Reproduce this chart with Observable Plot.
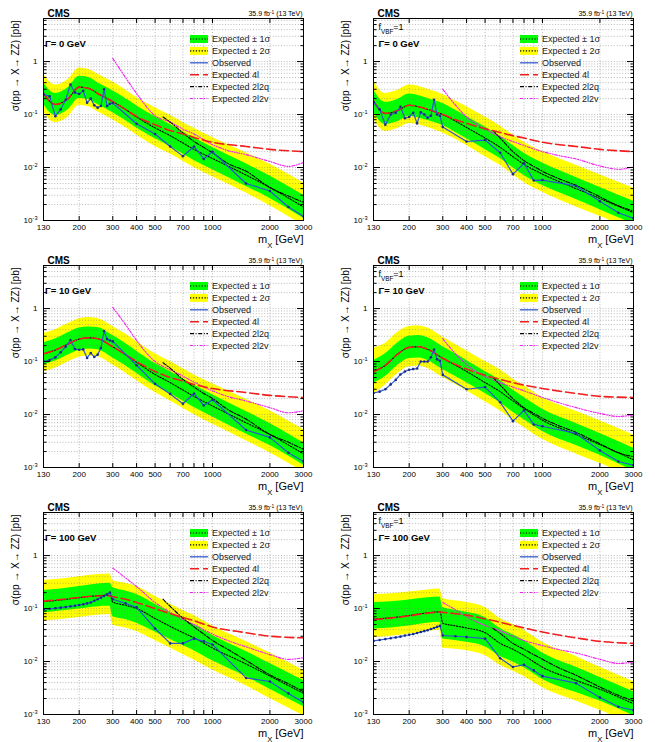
<!DOCTYPE html>
<html><head><meta charset="utf-8">
<script src="https://cdn.jsdelivr.net/npm/d3@7"></script>
<script src="https://cdn.jsdelivr.net/npm/@observablehq/plot@0.6"></script>
<style>
body{margin:0;background:#fff;}
#root{position:relative;width:655px;height:742px;background:#fff;}
#root svg{position:absolute;}
</style></head><body><div id="root"></div>
<script>
const FONT = "'Liberation Sans', Arial, Helvetica, sans-serif";

// ---- mass grids (GeV) ----
const mObs   = [130,140,150,160,170,180,190,200,210,220,230,240,250,260,270,280,290,300,400,500,600,700,800,900,1000,1500,2000,2500,3000];
const mObsW  = [130,140,150,160,170,180,190,200,210,220,230,240,250,260,270,280,290,300,350,400,500,600,700,800,900,1000,1500,2000,2500,3000];
const mBand  = [130,150,175,200,225,250,300,350,400,500,600,700,800,1000,1500,2000,3000];
const mBandW = [130,160,200,250,290,300,350,400,500,600,700,800,1000,1500,2000,3000];
const m2l2q  = [550,600,700,800,900,1000,1200,1500,2000,2500,3000];
const m2l2v  = [300,350,400,500,600,700,800,1000,1200,1500,2000,2500,3000];

// ---- tick labels ----
const xLabelTicks = [130,200,300,400,500,700,1000,2000,3000];
const xMinorTicks = [200,300,400,500,600,700,800,900,1000,2000];
const yLabelTicks = [0.001,0.01,0.1,1];
const yLabelText  = ["10^-3","10^-2","10^-1","1"];

// ---- legend ----
const legendLabels = ["Expected \u00b1 1\u03c3","Expected \u00b1 2\u03c3","Observed","Expected 4l","Expected 2l2q","Expected 2l2v"];

// ---- Panel A: ggF, Gamma = 0 GeV ----
const obsA  = [0.24,0.22,0.093,0.125,0.19,0.37,0.26,0.245,0.28,0.167,0.2,0.15,0.135,0.145,0.30,0.145,0.16,0.165,0.067,0.043,0.025,0.0164,0.025,0.0145,0.0198,0.005,0.0036,0.0018,0.0012];
const expA  = [0.25,0.155,0.2,0.33,0.31,0.25,0.175,0.125,0.09,0.056,0.04,0.029,0.022,0.0148,0.0072,0.0042,0.0018];
const s1hiA = [0.40,0.25,0.32,0.53,0.50,0.40,0.28,0.20,0.146,0.091,0.065,0.047,0.036,0.024,0.0118,0.0069,0.003];
const s1loA = [0.155,0.096,0.123,0.2,0.19,0.155,0.108,0.077,0.056,0.035,0.025,0.018,0.0136,0.0091,0.0044,0.0026,0.0011];
const s2hiA = [0.58,0.36,0.46,0.76,0.71,0.58,0.41,0.29,0.21,0.135,0.097,0.071,0.055,0.037,0.019,0.0115,0.0051];
const s2loA = [0.113,0.07,0.09,0.15,0.14,0.113,0.08,0.057,0.041,0.025,0.018,0.0132,0.01,0.0067,0.0033,0.0019,0.0008];
const l4A   = [0.25,0.155,0.2,0.33,0.31,0.25,0.175,0.125,0.092,0.064,0.05,0.043,0.037,0.03,0.025,0.022,0.02];
const qA    = [0.09,0.072,0.045,0.031,0.024,0.019,0.012,0.0085,0.0042,0.0029,0.0022];
const vA    = [1.15,0.5,0.25,0.095,0.072,0.053,0.043,0.027,0.021,0.0175,0.013,0.0105,0.0125];

// ---- Panel B: VBF, Gamma = 0 GeV ----
const obsB  = [0.17,0.125,0.064,0.1,0.108,0.14,0.085,0.09,0.108,0.068,0.11,0.1,0.087,0.095,0.19,0.1,0.095,0.058,0.031,0.033,0.019,0.0075,0.012,0.0057,0.0058,0.0045,0.0023,0.0014,0.0011];
const expB  = [0.18,0.105,0.12,0.15,0.14,0.125,0.1,0.075,0.057,0.036,0.024,0.016,0.0115,0.0075,0.004,0.0026,0.0014];
const s1hiB = [0.29,0.17,0.195,0.243,0.227,0.2,0.162,0.12,0.092,0.058,0.039,0.026,0.0186,0.0122,0.0065,0.0042,0.0023];
const s1loB = [0.111,0.065,0.074,0.093,0.086,0.077,0.062,0.046,0.035,0.022,0.0148,0.0099,0.0071,0.0046,0.0025,0.0016,0.00086];
const s2hiB = [0.43,0.25,0.29,0.36,0.34,0.3,0.24,0.18,0.14,0.09,0.061,0.041,0.03,0.02,0.011,0.0073,0.0041];
const s2loB = [0.082,0.048,0.055,0.068,0.064,0.057,0.045,0.034,0.026,0.016,0.011,0.0073,0.0052,0.0034,0.0018,0.0012,0.00064];
const l4B   = [0.18,0.105,0.12,0.15,0.14,0.125,0.1,0.08,0.068,0.054,0.046,0.04,0.036,0.03,0.025,0.022,0.02];
const qB    = [0.05,0.036,0.02,0.0135,0.0105,0.0085,0.0063,0.0046,0.0028,0.0019,0.0015];
const vB    = [0.3,0.15,0.09,0.053,0.038,0.031,0.026,0.02,0.017,0.0145,0.0107,0.0093,0.0103];

// ---- Panel C: ggF, Gamma = 10 GeV ----
const obsC  = [0.1,0.107,0.12,0.15,0.19,0.255,0.172,0.167,0.17,0.117,0.145,0.122,0.135,0.18,0.375,0.265,0.25,0.24,0.085,0.038,0.0245,0.016,0.025,0.0148,0.019,0.0051,0.0037,0.0019,0.0013];
const expC  = [0.14,0.165,0.215,0.265,0.28,0.27,0.19,0.135,0.097,0.057,0.04,0.029,0.022,0.0145,0.007,0.0042,0.0018];
const s1hiC = [0.227,0.267,0.35,0.43,0.45,0.44,0.31,0.22,0.157,0.092,0.065,0.047,0.036,0.0235,0.0114,0.0068,0.0029];
const s1loC = [0.086,0.102,0.133,0.164,0.173,0.167,0.117,0.083,0.06,0.035,0.025,0.018,0.0136,0.009,0.0043,0.0026,0.0011];
const s2hiC = [0.34,0.4,0.52,0.64,0.68,0.65,0.46,0.33,0.24,0.14,0.1,0.073,0.056,0.038,0.0195,0.0118,0.0052];
const s2loC = [0.064,0.075,0.098,0.12,0.127,0.123,0.086,0.061,0.044,0.026,0.018,0.0132,0.01,0.0066,0.0032,0.0019,0.00082];
const l4C   = [0.14,0.165,0.215,0.265,0.28,0.27,0.19,0.135,0.1,0.065,0.05,0.043,0.037,0.031,0.026,0.023,0.021];
const qC    = [0.095,0.075,0.046,0.033,0.025,0.02,0.0125,0.0082,0.0042,0.003,0.0022];
const vC    = [1.05,0.5,0.25,0.1,0.07,0.053,0.041,0.028,0.022,0.018,0.0135,0.0108,0.0118];

// ---- Panel D: VBF, Gamma = 10 GeV ----
const obsD  = [0.0255,0.027,0.03,0.037,0.045,0.057,0.065,0.07,0.072,0.074,0.1,0.1,0.1,0.12,0.168,0.11,0.103,0.056,0.03,0.033,0.017,0.0075,0.012,0.0065,0.006,0.0044,0.0021,0.0013,0.0011];
const expD  = [0.064,0.085,0.14,0.185,0.19,0.17,0.115,0.085,0.065,0.04,0.027,0.018,0.013,0.0078,0.0042,0.0027,0.0014];
const s1hiD = [0.105,0.14,0.23,0.3,0.31,0.28,0.19,0.14,0.105,0.065,0.044,0.029,0.021,0.0126,0.0068,0.0044,0.0023];
const s1loD = [0.039,0.052,0.086,0.114,0.117,0.105,0.071,0.052,0.04,0.025,0.0167,0.011,0.008,0.0048,0.0026,0.0017,0.00086];
const s2hiD = [0.18,0.22,0.36,0.46,0.47,0.43,0.29,0.21,0.16,0.1,0.07,0.047,0.035,0.021,0.0115,0.0076,0.0041];
const s2loD = [0.024,0.036,0.06,0.08,0.082,0.074,0.05,0.037,0.028,0.0175,0.0118,0.0079,0.0057,0.0034,0.0018,0.0012,0.00064];
const l4D   = [0.064,0.085,0.14,0.185,0.19,0.17,0.115,0.088,0.072,0.055,0.046,0.04,0.036,0.031,0.025,0.022,0.021];
const qD    = [0.05,0.036,0.02,0.0135,0.0105,0.0085,0.0063,0.0046,0.0028,0.0019,0.0016];
const vD    = [0.27,0.14,0.088,0.052,0.04,0.033,0.028,0.021,0.017,0.0135,0.0105,0.0092,0.0098];

// ---- Panel E: ggF, Gamma = 100 GeV ----
const obsE  = [0.097,0.099,0.101,0.104,0.107,0.11,0.113,0.117,0.12,0.125,0.13,0.14,0.15,0.16,0.172,0.185,0.2,0.15,0.125,0.105,0.042,0.022,0.022,0.027,0.024,0.021,0.0049,0.0042,0.0025,0.0017];
const expE  = [0.135,0.145,0.16,0.175,0.178,0.133,0.115,0.1,0.065,0.046,0.035,0.028,0.018,0.009,0.0053,0.0025];
const s1hiE = [0.22,0.235,0.26,0.29,0.3,0.25,0.215,0.185,0.12,0.083,0.063,0.05,0.031,0.0155,0.0092,0.0044];
const s1loE = [0.083,0.09,0.098,0.108,0.11,0.071,0.062,0.053,0.036,0.026,0.02,0.016,0.0103,0.0052,0.003,0.0014];
const s2hiE = [0.34,0.36,0.4,0.44,0.45,0.34,0.3,0.26,0.17,0.12,0.092,0.074,0.047,0.024,0.0145,0.0068];
const s2loE = [0.058,0.062,0.068,0.075,0.077,0.049,0.043,0.037,0.025,0.018,0.0135,0.0107,0.0069,0.0035,0.002,0.00095];
const l4E   = [0.138,0.148,0.162,0.172,0.172,0.168,0.15,0.13,0.1,0.08,0.068,0.059,0.045,0.035,0.03,0.028];
const qE    = [0.15,0.11,0.066,0.045,0.033,0.025,0.017,0.0105,0.0056,0.0038,0.0027];
const vE    = [0.58,0.38,0.26,0.13,0.085,0.062,0.05,0.033,0.025,0.019,0.0135,0.011,0.0118];

// ---- Panel F: VBF, Gamma = 100 GeV ----
const obsF  = [0.0245,0.0255,0.0265,0.0275,0.0285,0.0295,0.031,0.032,0.033,0.0345,0.036,0.0375,0.039,0.041,0.043,0.045,0.047,0.031,0.03,0.029,0.027,0.0115,0.0079,0.0087,0.0068,0.0053,0.0039,0.0021,0.0014,0.0012];
const expF  = [0.063,0.067,0.074,0.083,0.087,0.053,0.047,0.043,0.035,0.022,0.017,0.013,0.0078,0.0044,0.003,0.0016];
const s1hiF = [0.13,0.135,0.145,0.16,0.165,0.105,0.093,0.085,0.068,0.042,0.032,0.025,0.0145,0.0078,0.005,0.0027];
const s1loF = [0.041,0.043,0.047,0.053,0.055,0.027,0.025,0.023,0.019,0.0125,0.0098,0.0076,0.0046,0.0026,0.0018,0.00095];
const s2hiF = [0.185,0.19,0.205,0.225,0.235,0.155,0.14,0.13,0.105,0.065,0.05,0.039,0.023,0.0125,0.0078,0.0042];
const s2loF = [0.028,0.03,0.033,0.037,0.039,0.018,0.017,0.016,0.013,0.0085,0.0066,0.0052,0.0032,0.0018,0.0012,0.00065];
const l4F   = [0.062,0.066,0.073,0.082,0.086,0.085,0.08,0.075,0.064,0.055,0.048,0.043,0.036,0.028,0.024,0.022];
const qF    = [0.042,0.034,0.022,0.017,0.0135,0.011,0.0078,0.0055,0.0033,0.0023,0.0018];
const vF    = [0.13,0.095,0.07,0.048,0.038,0.03,0.025,0.02,0.017,0.0145,0.011,0.0092,0.0098];

const panels = [
  {col:0,row:0,vbf:false,gamma:"\u0393= 0 GeV",  mo:mObs, obs:obsA, mb:mBand, exp:expA, s1hi:s1hiA, s1lo:s1loA, s2hi:s2hiA, s2lo:s2loA, l4:l4A, q:qA, v:vA},
  {col:1,row:0,vbf:true, gamma:"\u0393= 0 GeV",  mo:mObs, obs:obsB, mb:mBand, exp:expB, s1hi:s1hiB, s1lo:s1loB, s2hi:s2hiB, s2lo:s2loB, l4:l4B, q:qB, v:vB},
  {col:0,row:1,vbf:false,gamma:"\u0393= 10 GeV", mo:mObs, obs:obsC, mb:mBand, exp:expC, s1hi:s1hiC, s1lo:s1loC, s2hi:s2hiC, s2lo:s2loC, l4:l4C, q:qC, v:vC},
  {col:1,row:1,vbf:true, gamma:"\u0393= 10 GeV", mo:mObs, obs:obsD, mb:mBand, exp:expD, s1hi:s1hiD, s1lo:s1loD, s2hi:s2hiD, s2lo:s2loD, l4:l4D, q:qD, v:vD},
  {col:0,row:2,vbf:false,gamma:"\u0393= 100 GeV",mo:mObsW,obs:obsE, mb:mBandW,exp:expE, s1hi:s1hiE, s1lo:s1loE, s2hi:s2hiE, s2lo:s2loE, l4:l4E, q:qE, v:vE},
  {col:1,row:2,vbf:true, gamma:"\u0393= 100 GeV",mo:mObsW,obs:obsF, mb:mBandW,exp:expF, s1hi:s1hiF, s1lo:s1loF, s2hi:s2hiF, s2lo:s2loF, l4:l4F, q:qF, v:vF}
];

// grid / minor ticks from the log scale's decades
const yMinor = [];
for (const e of [-3,-2,-1,0]) for (let k = 2; k <= 9; k++) { const val = +(k * Math.pow(10, e)).toPrecision(3); if (val < 6.5) yMinor.push(val); }
const yMajor = [0.01, 0.1, 1];
const yGrid = yMinor.concat(yMajor);

const ML = 43, MR = 27, MT = 18, MB = 27, W = 330, H = 247;
const RED = "#f01e1e", MAG = "#f020f0", BLUE = "#2a56d0", NAVY = "#1a2c88";
const DASH_MED = "1.3,1.6", DASH_4L = "9,4", DASH_2Q = "4,1.6,1,1.6", DASH_2V = "3,1.5,1,1.5,1,1.5";

function richText(svg) {
  d3.select(svg).selectAll("text").each(function() {
    const t = this.textContent;
    if (!/[\^_]/.test(t)) return;
    const sel = d3.select(this); sel.text(null);
    const re = /([\^_])([^\s=]+)/g; let last = 0, mm;
    while ((mm = re.exec(t))) {
      if (mm.index > last) sel.append("tspan").text(t.slice(last, mm.index));
      sel.append("tspan").attr("baseline-shift", mm[1] === "^" ? "super" : "sub").attr("font-size", "70%").text(mm[2]);
      last = re.lastIndex;
    }
    if (last < t.length) sel.append("tspan").text(t.slice(last));
  });
}

const root = document.getElementById("root");
for (const p of panels) {
  const band = p.mb.map((m, i) => ({m, exp: p.exp[i], s1lo: p.s1lo[i], s1hi: p.s1hi[i], s2lo: p.s2lo[i], s2hi: p.s2hi[i], l4: p.l4[i]}));
  const obs = p.mo.map((m, i) => ({m, v: p.obs[i]}));
  const q = m2l2q.map((m, i) => ({m, v: p.q[i]}));
  const v = m2l2v.map((m, i) => ({m, v: p.v[i]}));
  const texts = [
    Plot.text(["CMS"], {frameAnchor: "top-left", dx: 4, dy: -1.5, lineAnchor: "bottom", textAnchor: "start", fontWeight: "bold", fontSize: 10}),
    Plot.text(["35.9 fb^-1 (13 TeV)"], {frameAnchor: "top-right", dx: -1, dy: -2.5, lineAnchor: "bottom", textAnchor: "end", fontSize: 7}),
    Plot.text([p.gamma], {frameAnchor: "top-left", dx: p.vbf ? 5 : 1.5, dy: 28, lineAnchor: "bottom", textAnchor: "start", fontWeight: "bold", fontSize: 9.5}),
    Plot.text(["\u03c3(pp \u2192 X\u2192 ZZ) [pb]"], {frameAnchor: "top-left", dx: -28, dy: 2, rotate: -90, textAnchor: "end", lineAnchor: "middle", fontSize: 10}),
    Plot.text(["m_X [GeV]"], {frameAnchor: "bottom-right", dy: 22, lineAnchor: "bottom", textAnchor: "end", fontSize: 11}),
    Plot.text(xLabelTicks, {x: d => d, text: d => String(d), frameAnchor: "bottom", dy: 4, lineAnchor: "top", fontSize: 8}),
    Plot.text(yLabelTicks, {y: d => d, text: (d, i) => yLabelText[i], frameAnchor: "left", dx: -6, textAnchor: "end", lineAnchor: "middle", fontSize: 8})
  ];
  if (p.vbf) texts.push(Plot.text(["f_VBF=1"], {frameAnchor: "top-left", dx: 5, dy: 11.5, lineAnchor: "bottom", textAnchor: "start", fontSize: 9}));

  const svg = Plot.plot({
    width: W, height: H, marginLeft: ML, marginRight: MR, marginTop: MT, marginBottom: MB,
    style: {fontFamily: FONT, fontSize: "8px", color: "#000", background: "transparent", overflow: "visible"},
    x: {type: "log", domain: [130, 3000], label: null},
    y: {type: "log", domain: [1e-3, 6.5], label: null},
    marks: [
      Plot.areaY(band, {x: "m", y1: "s2lo", y2: "s2hi", fill: "#ffff00", curve: "monotone-x", clip: true}),
      Plot.areaY(band, {x: "m", y1: "s1lo", y2: "s1hi", fill: "#00ff00", curve: "monotone-x", clip: true}),
      Plot.gridX(xMinorTicks, {stroke: "#777", strokeOpacity: 0.5, strokeDasharray: "1,1.8"}),
      Plot.gridY(yGrid, {stroke: "#777", strokeOpacity: 0.5, strokeDasharray: "1,1.8"}),
      Plot.line(band, {x: "m", y: "exp", stroke: "#000", strokeWidth: 1.1, strokeDasharray: DASH_MED, curve: "monotone-x", clip: true}),
      Plot.line(v, {x: "m", y: "v", stroke: MAG, strokeWidth: 1.1, strokeDasharray: DASH_2V, curve: "monotone-x", clip: true}),
      Plot.line(q, {x: "m", y: "v", stroke: "#000", strokeWidth: 1.1, strokeDasharray: DASH_2Q, curve: "monotone-x", clip: true}),
      Plot.line(band, {x: "m", y: "l4", stroke: RED, strokeWidth: 1.6, strokeDasharray: DASH_4L, curve: "monotone-x", clip: true}),
      Plot.line(obs, {x: "m", y: "v", stroke: BLUE, strokeWidth: 1.2, clip: true}),
      Plot.dot(obs, {x: "m", y: "v", r: 1.3, fill: NAVY, stroke: null, clip: true}),
      Plot.frame({stroke: "#000", strokeWidth: 1}),
      Plot.axisX(xMinorTicks, {anchor: "bottom", tickSize: -4, tickFormat: () => "", label: null}),
      Plot.axisX(xMinorTicks, {anchor: "top", tickSize: -4, tickFormat: () => "", label: null}),
      Plot.axisY(yMinor, {anchor: "left", tickSize: -3.5, tickFormat: () => "", label: null}),
      Plot.axisY(yMinor, {anchor: "right", tickSize: -3.5, tickFormat: () => "", label: null}),
      Plot.axisY(yMajor, {anchor: "left", tickSize: -7, tickFormat: () => "", label: null}),
      Plot.axisY(yMajor, {anchor: "right", tickSize: -7, tickFormat: () => "", label: null}),
      ...texts
    ]
  });

  // legend (pixel layout, not data)
  const lg = d3.select(svg).append("g")
    .attr("transform", `translate(${ML + 147},${MT + 21})`)
    .attr("font-family", FONT).attr("font-size", 9).attr("fill", "#222").attr("text-anchor", "start");
  const styles = [
    {fill: "#00ff00", stroke: "#000", sw: 1.1, dash: DASH_MED},
    {fill: "#ffff00", stroke: "#000", sw: 1.1, dash: DASH_MED},
    {stroke: BLUE, sw: 1.2, dash: null},
    {stroke: RED, sw: 1.6, dash: DASH_4L},
    {stroke: "#000", sw: 1.1, dash: DASH_2Q},
    {stroke: MAG, sw: 1.1, dash: DASH_2V}
  ];
  legendLabels.forEach((lab, i) => {
    const y = i * 11.9, s = styles[i];
    if (s.fill) lg.append("rect").attr("x", 0).attr("y", y - 4).attr("width", 18).attr("height", 8).attr("fill", s.fill);
    lg.append("line").attr("x1", 0).attr("x2", 18).attr("y1", y).attr("y2", y)
      .attr("stroke", s.stroke).attr("stroke-width", s.sw).attr("stroke-dasharray", s.dash);
    lg.append("text").attr("x", 22).attr("y", y).attr("dy", "0.35em").attr("text-anchor", "start").text(lab);
  });

  richText(svg);
  svg.style.left = (p.col * W) + "px";
  svg.style.top = (p.row * H) + "px";
  root.appendChild(svg);
}
</script>
</body></html>
